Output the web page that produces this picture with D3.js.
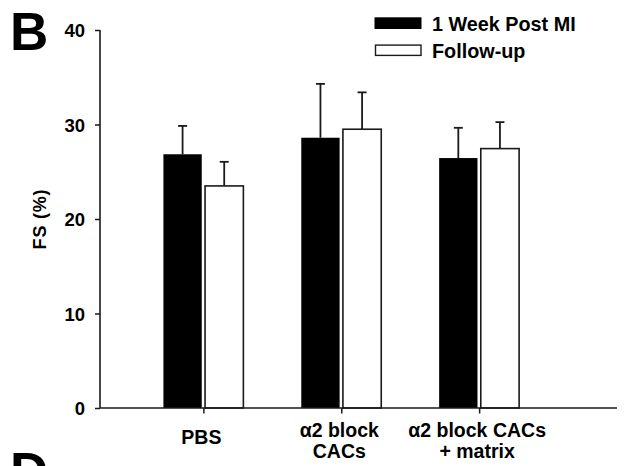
<!DOCTYPE html>
<html>
<head>
<meta charset="utf-8">
<script src="https://cdn.jsdelivr.net/npm/d3@7"></script>
<style>
  html, body { margin: 0; padding: 0; background: #fff; }
  svg { display: block; font-family: "Liberation Sans", Arial, sans-serif; }
</style>
</head>
<body>
<svg id="chart" width="624" height="466"></svg>
<script>
// ---- data ----
const categories = [["PBS"], ["\u03B12 block", "CACs"], ["\u03B12 block CACs", "+ matrix"]];
const seriesNames = ["1 Week Post MI", "Follow-up"];
const weekPostMI = [26.85, 28.6, 26.45];
const weekPostMIErr = [3.0, 5.7, 3.2];
const followUp = [23.5, 29.5, 27.45];
const followUpErr = [2.55, 3.9, 2.8];
const yTicks = [0, 10, 20, 30, 40];

const seriesValues = [weekPostMI, followUp];
const seriesErrs = [weekPostMIErr, followUpErr];
const seriesFill = ["#000", "#fff"];

const svg = d3.select("#chart");
const ink = "#1a1a1a";

// scales
const y = d3.scaleLinear().domain([0, 40]).range([408, 30]);
const x = d3.scaleLinear().domain([0.25, 4]).range([100, 617]);
const step = x(2) - x(1);
const barW = step * 0.278;
const gap = step * 0.012;
const offset = d3.scaleOrdinal().domain([0, 1]).range([-gap - barW, gap]);

// panel letters
svg.append("text").attr("x", 10).attr("y", 50)
  .attr("font-size", 53).attr("font-weight", "bold").attr("fill", "#000").text("B");
svg.append("text").attr("x", 10).attr("y", 490)
  .attr("font-size", 53).attr("font-weight", "bold").attr("fill", "#000").text("D");

// bars
const bars = svg.append("g");
seriesValues.forEach((vals, s) => {
  vals.forEach((v, i) => {
    const cx = x(i + 1);
    const bx = cx + offset(s);
    const ex = bx + barW / 2;
    bars.append("line")
      .attr("x1", ex).attr("x2", ex)
      .attr("y1", y(v)).attr("y2", y(v + seriesErrs[s][i]))
      .attr("stroke", ink).attr("stroke-width", 1.8);
    bars.append("line")
      .attr("x1", ex - 4.5).attr("x2", ex + 4.5)
      .attr("y1", y(v + seriesErrs[s][i])).attr("y2", y(v + seriesErrs[s][i]))
      .attr("stroke", ink).attr("stroke-width", 1.8);
    bars.append("rect")
      .attr("x", bx).attr("y", y(v))
      .attr("width", barW).attr("height", y(0) - y(v))
      .attr("fill", seriesFill[s])
      .attr("stroke", s === 0 ? "none" : ink)
      .attr("stroke-width", 1.6);
  });
});

// y axis
const yAxis = svg.append("g").attr("transform", `translate(${x(0.25)},0)`)
  .call(d3.axisLeft(y).tickValues(yTicks).tickSize(5).tickPadding(10).tickFormat(d3.format("d")));
yAxis.select(".domain").attr("stroke", ink).attr("stroke-width", 1.6).attr("d", `M-0,${y(40)}V${y(0)}`);
yAxis.selectAll(".tick line").attr("stroke", ink).attr("stroke-width", 1.5);
yAxis.selectAll(".tick text").attr("font-size", 18.5).attr("font-weight", "bold")
  .attr("fill", "#000").attr("font-family", "Liberation Sans, Arial, sans-serif").attr("dy", "0.36em");

// x axis
const xAxis = svg.append("g").attr("transform", `translate(0,${y(0)})`)
  .call(d3.axisBottom(x).tickValues([1, 2, 3]).tickSize(5.5).tickFormat(""));
xAxis.select(".domain").attr("stroke", ink).attr("stroke-width", 1.6).attr("d", `M${x(0.25)},0H${x(4)}`);
xAxis.selectAll(".tick line").attr("stroke", ink).attr("stroke-width", 1.5);

// x labels
categories.forEach((lines, i) => {
  const t = svg.append("text")
    .attr("x", x(i + 1) - 2)
    .attr("y", lines.length === 1 ? 443.5 : 436.5)
    .attr("text-anchor", "middle")
    .attr("font-size", 19.5).attr("font-weight", "bold").attr("fill", "#000");
  lines.forEach((ln, k) => {
    t.append("tspan").attr("x", x(i + 1) - 2).attr("dy", k === 0 ? 0 : 21.7).text(ln);
  });
});

// y label
svg.append("text")
  .attr("transform", `translate(45.5,219) rotate(-90)`)
  .attr("text-anchor", "middle")
  .attr("font-size", 18).attr("font-weight", "bold").attr("fill", "#000")
  .attr("letter-spacing", 0.8)
  .text("FS (%)");

// legend
const legend = svg.append("g");
seriesNames.forEach((name, s) => {
  const ly = 17.3 + s * 27.3;
  legend.append("rect")
    .attr("x", s === 0 ? 374.5 : 375.5).attr("y", s === 0 ? ly : ly + 0.5)
    .attr("width", s === 0 ? 47 : 45.5).attr("height", s === 0 ? 11.7 : 10.3)
    .attr("fill", seriesFill[s]).attr("stroke", s === 0 ? "none" : ink).attr("stroke-width", 1.4);
  legend.append("text")
    .attr("x", 432).attr("y", ly + 13.4)
    .attr("font-size", 19.8).attr("font-weight", "bold").attr("fill", "#000")
    .text(name);
});
</script>
</body>
</html>
